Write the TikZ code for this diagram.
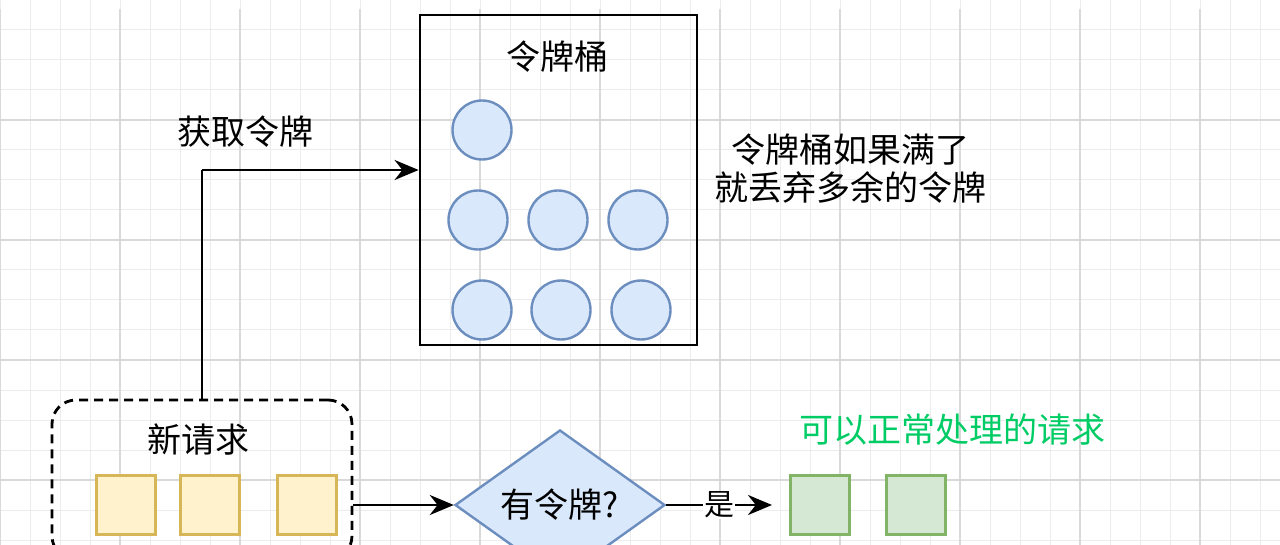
\documentclass[tikz,border=0pt]{standalone}
\usepackage{fontspec}
\setmainfont{Noto Sans CJK SC}
\usetikzlibrary{shapes.geometric,arrows.meta}
\definecolor{bfill}{HTML}{DAE8FC}\definecolor{bline}{HTML}{6C8EBF}
\definecolor{yfill}{HTML}{FFF2CC}\definecolor{yline}{HTML}{D6B656}
\definecolor{gfill}{HTML}{D5E8D4}\definecolor{gline}{HTML}{82B366}
\definecolor{gtext}{HTML}{00CC66}
\begin{document}
\begin{tikzpicture}[x=1pt,y=-1pt,
  tok/.style={circle,draw=bline,fill=bfill,line width=2.4pt,minimum size=59pt,inner sep=0pt},
  req/.style={draw=yline,fill=yfill,line width=2.4pt,minimum size=59pt,inner sep=0pt},
  ok/.style={draw=gline,fill=gfill,line width=2.4pt,minimum size=59pt,inner sep=0pt},
  lbl/.style={font=\fontsize{34}{38}\selectfont,inner sep=0pt,align=center},
  arr/.style={line width=2.8pt,-{Stealth[length=24pt,width=20pt]}}]
\useasboundingbox (0,0) rectangle (1280,545);
\clip (0,0) rectangle (1280,545);
\fill[white] (0,0) rectangle (1280,545);
\draw[gray!15,line width=1pt] (-10,-21) grid[step=30pt] (1290,560);
\draw[gray!30,line width=1.2pt] (-10,9) grid[step=120pt] (1290,560);
\node[draw,line width=2.8pt,minimum width=277pt,minimum height=330pt,inner sep=0pt] (bucket) at (558.5,180) {};
\node[lbl] (btitle) at (557,57) {令牌桶};
\node[tok] (c1) at (482,130) {};
\node[tok] (c2) at (478,220) {};
\node[tok] (c3) at (558,220) {};
\node[tok] (c4) at (638,220) {};
\node[tok] (c5) at (482,310) {};
\node[tok] (c6) at (561,310) {};
\node[tok] (c7) at (641,310) {};
\node[lbl] (note) at (850,169) {令牌桶如果满了\\就丢弃多余的令牌};
\node[draw,dashed,dash pattern=on 9pt off 6pt,line width=2.8pt,rounded corners=24pt,minimum width=300pt,minimum height=160pt] (newbox) at (202,480) {};
\node[lbl] (newt) at (198,440) {新请求};
\node[req] (r1) at (126,505) {};
\node[req] (r2) at (210,505) {};
\node[req] (r3) at (307,505) {};
\node[diamond,draw=bline,fill=bfill,line width=2.4pt,minimum width=210pt,minimum height=150pt,inner sep=0pt] (dia) at (560,505) {};
\node[lbl] at (dia.center) {有令牌?};
\node[ok] (g1) at (820,505) {};
\node[ok] (g2) at (916,505) {};
\node[lbl,text=gtext] (okt) at (952,430) {可以正常处理的请求};
\coordinate (turn) at (202,170);
\coordinate (yesend) at (772,505);
\draw[line width=2.8pt] (newbox.north) -- (turn);
\draw[arr] (turn) -- (bucket.west |- turn);
\node[lbl] (get) at (245,132) {获取令牌};
\draw[arr] (newbox.east |- dia) -- (dia.west);
\draw[arr] (dia.east) -- node[fill=white,inner sep=1pt,font=\fontsize{30}{34}\selectfont] (yes) {是} (yesend);
\end{tikzpicture}
\end{document}
